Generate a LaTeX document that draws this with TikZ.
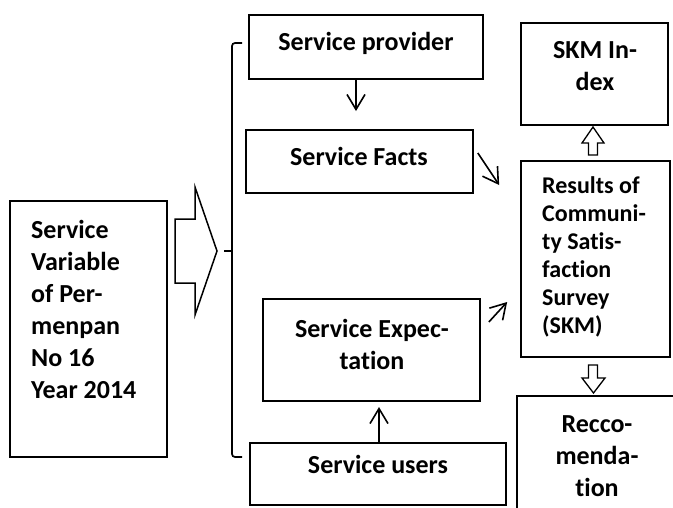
\documentclass[tikz,border=0pt]{standalone}
\usepackage{fontspec}
\setmainfont{Carlito}[Ligatures=NoCommon]
\usetikzlibrary{arrows.meta,fit,calc}
\newcommand\mytab[2]{\begin{tabular}[t]{@{}#1@{}}#2\end{tabular}}
\begin{document}
\begin{tikzpicture}[x=1pt,y=-1pt,
  box/.style={draw, line width=1.7pt, inner sep=0pt},
  txt/.style={inner sep=0pt, font=\fontsize{26}{32}\selectfont\bfseries},
  stxt/.style={inner sep=0pt, font=\fontsize{24}{28}\selectfont\bfseries},
  arr/.style={line width=1.6pt, -{Straight Barb[length=15pt,width=18pt]}},
  hollow/.style={draw, line width=1.3pt, line join=miter},
  brace/.style={line width=1.7pt}]
\path[use as bounding box] (0,0) rectangle (673,507);
\clip (0,0) rectangle (673,507);

% boxes
\node[box, fit={(10,201) (167,457)}] (lb) {};
\node[box, fit={(249,15) (483,79)}] (sp) {};
\node[box, fit={(246,130) (473,193)}] (sf) {};
\node[box, fit={(521,23) (668,125)}] (skm) {};
\node[box, fit={(521,161) (670,357)}] (res) {};
\node[box, fit={(263,299) (480,401)}] (se) {};
\node[box, fit={(250,443) (506,505)}] (su) {};
\node[box, fit={(517,396) (690,540)}] (rec) {};

% texts
\node[txt, anchor=base west] (lbt) at (31,238) {\mytab{l}{Service\\Variable\\of Per-\\menpan\\No 16\\Year 2014}};
\node[txt, anchor=base] (spt) at (366,50) {Service provider};
\node[txt, anchor=base] (sft) at (359,165) {Service Facts};
\node[txt, anchor=base] (skt) at (595,58) {\mytab{c}{SKM In-\\dex}};
\node[stxt, anchor=base west] (rest) at (542,193) {\mytab{l}{Results of\\Communi-\\ty Satis-\\faction\\Survey\\(SKM)}};
\node[txt, anchor=base] (set) at (372,337) {\mytab{c}{Service Expec-\\tation}};
\node[txt, anchor=base] (sut) at (378,473) {Service users};
\node[txt, anchor=base] (rect) at (597,432) {\mytab{c}{Recco-\\menda-\\tion}};

% big hollow arrow
\draw[line width=1.5pt, line join=miter] (175,219) -- (195,219) -- (195,187) -- (217,251) -- (195,315) -- (195,283) -- (175,283) -- cycle;

% bracket
\draw[brace, rounded corners=3pt] (242,43) -- (232,43) -- (232,457) -- (242,457);
\coordinate (bt) at (224,251);
\draw[brace] (bt) -- (232,251);

% line arrows
\coordinate (a1) at (356,111);
\draw[arr] (sp.south -| a1) -- (a1);
\draw[arr] ([shift={(4,-8.5)}]sf.east) -- ([shift={(-21,-74)}]res.west);
\draw[arr] ([shift={(8,-28)}]se.east) -- ([shift={(-13,43)}]res.west);
\coordinate (a2) at (379,407);
\draw[arr] (su.north -| a2) -- (a2);

% hollow block arrows
\draw[hollow] (588.5,155) -- (588.5,143) -- (582,143) -- (593,127) -- (604,143) -- (597.5,143) -- (597.5,155) -- cycle;
\draw[hollow] (588.5,365) -- (597.5,365) -- (597.5,378) -- (605,378) -- (593.5,393) -- (582,378) -- (588.5,378) -- cycle;
\end{tikzpicture}
\end{document}
